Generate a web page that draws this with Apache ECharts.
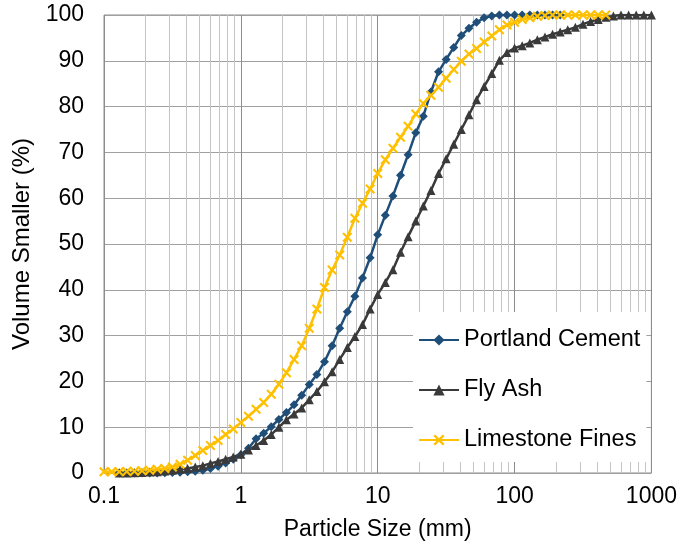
<!DOCTYPE html>
<html>
<head>
<meta charset="utf-8">
<script src="https://cdn.jsdelivr.net/npm/echarts@6/dist/echarts.min.js"></script>
<style>html,body{margin:0;padding:0;background:#fff}#c{width:680px;height:550px}</style>
</head>
<body>
<div id="c"></div>
<script>
// particle sizes (mm), log-spaced bins
const sizes = [0.1,0.1137,0.1292,0.1468,0.1668,0.1896,0.2154,0.2448,0.2783,0.3162,0.3594,0.4084,0.4642,0.5275,0.5995,0.6813,0.7743,0.8799,
  1,1.137,1.292,1.468,1.668,1.896,2.154,2.448,2.783,3.162,3.594,4.084,4.642,5.275,5.995,6.813,7.743,8.799,
  10,11.37,12.92,14.68,16.68,18.96,21.54,24.48,27.83,31.62,35.94,40.84,46.42,52.75,59.95,68.13,77.43,87.99,
  100,113.7,129.2,146.8,166.8,189.6,215.4,244.8,278.3,316.2,359.4,408.4,464.2,527.5,599.5,681.3,774.3,879.9,1000];

const portlandCement = [null,null,0,0,0,0,0,0,0.05,0.1,0.15,0.25,0.4,0.6,1.0,1.5,2.2,3.0,
  4.0,5.4,7.5,8.7,10.1,11.7,13.2,14.9,17.0,19.3,21.5,24.3,27.8,31.6,35.2,38.6,42.6,47.0,
  52.0,56.3,60.5,65.0,69.5,74.3,77.9,83.2,87.6,90.3,92.9,95.5,97.1,98.4,99.4,99.8,100,100,
  100,100,100,100,100,100,100,null,null,null,null,null,null,null,null,null,null,null,null];

const flyAsh = [null,null,0,0,0.05,0.1,0.2,0.3,0.45,0.6,0.8,1.0,1.3,1.6,2.1,2.5,3.0,3.5,
  4.1,5.0,6.0,7.1,8.4,10.0,11.6,12.9,14.2,16.0,17.8,19.9,22.1,24.8,27.4,29.8,32.4,35.8,
  39.0,41.6,44.4,48.2,51.6,55.0,58.3,61.7,65.4,68.6,71.8,75.0,78.2,81.5,84.4,87.2,90.1,91.8,
  92.8,93.3,93.9,94.6,95.2,95.8,96.3,96.8,97.3,98.0,98.6,99.0,99.5,99.8,100,100,100,100,100];

const limestoneFines = [0.3,0.3,0.3,0.35,0.4,0.5,0.6,0.8,1.0,1.3,1.9,2.8,3.8,4.9,6.0,7.1,8.4,9.6,
  11.0,12.4,13.9,15.4,17.2,19.4,21.9,24.8,27.8,31.6,35.8,40.5,44.3,47.6,51.5,55.6,58.9,62.0,
  65.4,68.4,70.9,73.3,75.7,78.4,80.7,82.5,84.2,86.2,88.1,89.9,91.5,92.7,94.1,95.4,96.8,97.8,
  98.4,99.0,99.4,99.7,99.9,100,100,100,100,100,100,100,100,null,null,null,null,null,null];

const seriesNames = ['Portland Cement','Fly Ash','Limestone Fines'];
const minorGrid = [0.2,0.3,0.4,0.5,0.6,0.7,0.8,0.9,2,3,4,5,6,7,8,9,20,30,40,50,60,70,80,90,200,300,400,500,600,700,800,900];

function pairs(vals){
  const out = [];
  vals.forEach((v,i)=>{ if(v!==null) out.push([sizes[i], v]); });
  return out;
}

const FONT = "'Liberation Sans', Arial, sans-serif";
const xPath = 'path://M0,1.5L1.5,0L5,3.5L8.5,0L10,1.5L6.5,5L10,8.5L8.5,10L5,6.5L1.5,10L0,8.5L3.5,5Z';

const chart = echarts.init(document.getElementById('c'), null, {renderer:'canvas'});
chart.setOption({
  animation: false,
  backgroundColor: '#fff',
  grid: {left:104, right:28, top:15, bottom:77, show:true, borderColor:'#8c8c8c', borderWidth:1, backgroundColor:'transparent'},
  legend: {
    orient:'vertical', left:413, top:312, padding:[16,6,10,5], itemGap:26,
    itemWidth:40, itemHeight:14, backgroundColor:'#fff',
    textStyle:{fontSize:23.5, fontFamily:FONT, color:'#000', lineHeight:24},
    data: seriesNames
  },
  xAxis: {
    type:'log', logBase:10, min:0.1, max:1000,
    axisLine:{show:false}, axisTick:{show:false},
    axisLabel:{margin:12, fontSize:23, fontFamily:FONT, color:'#000', showMinLabel:true, showMaxLabel:true,
      formatter: v => String(+(+v).toPrecision(3))},
    splitLine:{show:true, lineStyle:{color:'#8c8c8c', width:1}},
    name:'Particle Size (mm)', nameLocation:'middle', nameGap:45,
    nameTextStyle:{fontSize:23, fontFamily:FONT, color:'#000'}
  },
  yAxis: {
    type:'value', min:0, max:100, interval:10,
    axisLine:{show:false}, axisTick:{show:false},
    axisLabel:{margin:20, fontSize:23, fontFamily:FONT, color:'#000'},
    splitLine:{show:true, lineStyle:{color:'#a0a0a0', width:1}},
    name:'Volume Smaller (%)', nameLocation:'middle', nameGap:67,
    nameTextStyle:{fontSize:24, fontFamily:FONT, color:'#000'}
  },
  series: [
    {
      name: seriesNames[0], type:'line', data: pairs(portlandCement),
      symbol:'diamond', symbolSize:9, showSymbol:true,
      lineStyle:{color:'#1F4E79', width:2.5}, itemStyle:{color:'#1F4E79'},
      emphasis:{disabled:true},
      markLine:{
        z:1, silent:true, symbol:'none', label:{show:false}, animation:false,
        lineStyle:{color:'#c4c4c4', width:1, type:'solid'},
        emphasis:{disabled:true},
        data: minorGrid.map(v => ({xAxis:v}))
      }
    },
    {
      name: seriesNames[1], type:'line', data: pairs(flyAsh),
      symbol:'triangle', symbolSize:9, showSymbol:true,
      lineStyle:{color:'#3A3A3A', width:2.5}, itemStyle:{color:'#3A3A3A'},
      emphasis:{disabled:true}
    },
    {
      name: seriesNames[2], type:'line', data: pairs(limestoneFines),
      symbol:xPath, symbolSize:10, showSymbol:true,
      lineStyle:{color:'#FFC000', width:2.5}, itemStyle:{color:'#FFC000'},
      emphasis:{disabled:true}
    }
  ]
});
</script>
</body>
</html>
